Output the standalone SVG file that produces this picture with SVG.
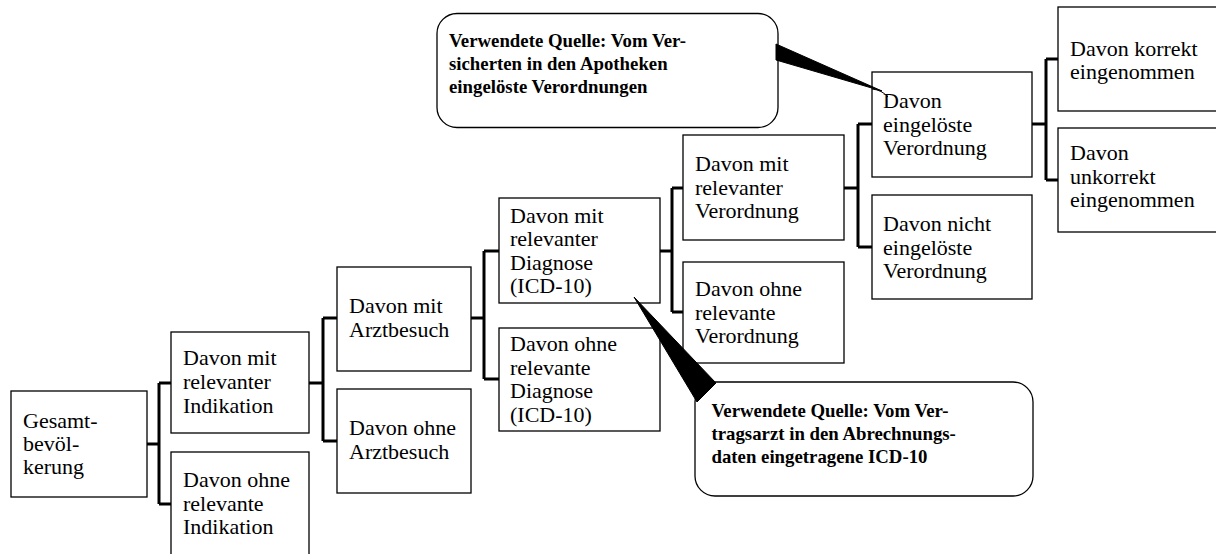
<svg xmlns="http://www.w3.org/2000/svg" width="1216" height="554" viewBox="0 0 1216 554">
<defs>
<style>
.box{fill:#fff;stroke:#000;stroke-width:1.3}
.con{fill:none;stroke:#000;stroke-width:3}
.call{fill:#fff;stroke:#000;stroke-width:1.3}
.wedge{fill:#000;stroke:#000;stroke-width:1}
</style>
</defs>
<rect width="1216" height="554" fill="#fff"/>
<g id="connectors">
<path class="con" d="M147 444H159M159 383V504M159 383H171M159 504H171"/>
<path class="con" d="M309 383H323M323 318V441M323 318H337M323 441H337"/>
<path class="con" d="M471 318H484M484 251V379M484 251H499M484 379H499"/>
<path class="con" d="M660 251H672M672 188V312M672 188H683M672 312H683"/>
<path class="con" d="M844 188H858M858 124V247M858 124H872M858 247H872"/>
<path class="con" d="M1032 124H1046M1046 59V180M1046 59H1058M1046 180H1058"/>
</g>
<g id="nodes" font-family="'Liberation Serif', 'Times New Roman', serif" font-size="22" fill="#000">
<g id="n1"><rect class="box" x="11" y="391" width="136" height="106"/>
<text x="23" y="428">Gesamt-</text><text x="23" y="451">bevöl-</text><text x="23" y="474">kerung</text></g>
<g id="n2"><rect class="box" x="171" y="332" width="138" height="101"/>
<text x="183" y="365">Davon mit</text><text x="183" y="389">relevanter</text><text x="183" y="413">Indikation</text></g>
<g id="n3"><rect class="box" x="171" y="452" width="138" height="104"/>
<text x="183" y="487">Davon ohne</text><text x="183" y="511">relevante</text><text x="183" y="534">Indikation</text></g>
<g id="n4"><rect class="box" x="337" y="267" width="134" height="104"/>
<text x="349" y="313">Davon mit</text><text x="349" y="337">Arztbesuch</text></g>
<g id="n5"><rect class="box" x="337" y="389" width="134" height="104"/>
<text x="349" y="435">Davon ohne</text><text x="349" y="459">Arztbesuch</text></g>
<g id="n6"><rect class="box" x="499" y="198" width="161" height="105"/>
<text x="510" y="222.5">Davon mit</text><text x="510" y="246">relevanter</text><text x="510" y="269.5">Diagnose</text><text x="510" y="293">(ICD-10)</text></g>
<g id="n7"><rect class="box" x="499" y="328" width="161" height="103"/>
<text x="510" y="351">Davon ohne</text><text x="510" y="374.5">relevante</text><text x="510" y="398">Diagnose</text><text x="510" y="421.5">(ICD-10)</text></g>
<g id="n8"><rect class="box" x="683" y="135" width="161" height="105"/>
<text x="695" y="171">Davon mit</text><text x="695" y="194.5">relevanter</text><text x="695" y="218">Verordnung</text></g>
<g id="n9"><rect class="box" x="683" y="262" width="161" height="101"/>
<text x="695" y="296">Davon ohne</text><text x="695" y="319.5">relevante</text><text x="695" y="343">Verordnung</text></g>
<g id="n10"><rect class="box" x="872" y="72" width="160" height="105"/>
<text x="883" y="108">Davon</text><text x="883" y="131.5">eingelöste</text><text x="883" y="155">Verordnung</text></g>
<g id="n11"><rect class="box" x="872" y="195" width="160" height="104"/>
<text x="883" y="231">Davon nicht</text><text x="883" y="254.5">eingelöste</text><text x="883" y="278">Verordnung</text></g>
<g id="n12"><rect class="box" x="1058" y="7" width="165" height="104"/>
<text x="1070" y="55.5">Davon korrekt</text><text x="1070" y="79">eingenommen</text></g>
<g id="n13"><rect class="box" x="1058" y="128" width="165" height="104"/>
<text x="1070" y="160">Davon</text><text x="1070" y="183.5">unkorrekt</text><text x="1070" y="207">eingenommen</text></g>
</g>
<g id="callouts" font-family="'Liberation Serif', 'Times New Roman', serif" font-size="18.8" font-weight="bold" fill="#000">
<g id="callout1">
<rect class="call" x="437" y="13.5" width="341" height="114" rx="20" ry="20"/>
<polygon class="wedge" points="776,44 776,60 882,91"/>
<path d="M872 89 Q882 90 888 97" fill="none" stroke="#000" stroke-width="1"/>
<text x="449" y="46.7">Verwendete Quelle: Vom Ver-</text>
<text x="449" y="70">sicherten in den Apotheken</text>
<text x="449" y="93.3">eingelöste Verordnungen</text>
</g>
<g id="callout2">
<rect class="call" x="695" y="382" width="338" height="114" rx="20" ry="20"/>
<polygon class="wedge" points="634,297 697,402 716,383"/>
<text x="711.5" y="416.7">Verwendete Quelle: Vom Ver-</text>
<text x="711.5" y="440">tragsarzt in den Abrechnungs-</text>
<text x="711.5" y="463.3">daten eingetragene ICD-10</text>
</g>
</g>
</svg>
